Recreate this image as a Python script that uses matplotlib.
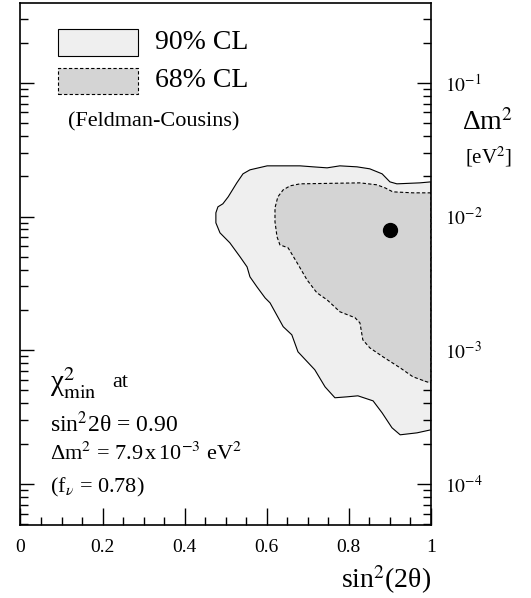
import numpy as np
import matplotlib
matplotlib.use("Agg")
from matplotlib import pyplot as plt
from matplotlib.patches import Rectangle
from matplotlib.ticker import LogLocator, MultipleLocator, FixedFormatter, FixedLocator

plt.rcParams['font.family'] = ['Liberation Serif', 'DejaVu Serif']
plt.rcParams['mathtext.fontset'] = 'stix'

# 90% CL contour (sin^2 2theta, dm^2 in eV^2)
cl90_x = [1.0, 0.973, 0.917, 0.900, 0.881, 0.851, 0.820, 0.778, 0.747, 0.713, 0.681, 0.601,
          0.559, 0.542, 0.527, 0.506, 0.493, 0.481, 0.476, 0.476, 0.486, 0.510, 0.535, 0.552,
          0.559, 0.576, 0.596, 0.608, 0.640, 0.661, 0.676, 0.717, 0.742, 0.766, 0.795, 0.822,
          0.859, 0.881, 0.905, 0.925, 0.966, 1.0]
cl90_y = [0.01817, 0.01786, 0.01756, 0.01817, 0.02086, 0.02274, 0.02353, 0.02394, 0.02313, 0.02353, 0.02394, 0.02394,
          0.02235, 0.02086, 0.01786, 0.01404, 0.01245, 0.01182, 0.01066, 0.00897, 0.00755, 0.00636, 0.00499, 0.00420,
          0.00354, 0.00298, 0.00246, 0.00226, 0.00150, 0.001304, 0.000973, 0.000714, 0.000532, 0.000441, 0.000448, 0.000456,
          0.000418, 0.000340, 0.000263, 0.000233, 0.000241, 0.000254]

# 68% CL contour
cl68_x = [1.0, 0.956, 0.907, 0.888, 0.868, 0.827, 0.681, 0.657, 0.640, 0.627, 0.620, 0.620,
          0.625, 0.632, 0.652, 0.674, 0.698, 0.722, 0.747, 0.778, 0.815, 0.827, 0.834, 0.851,
          0.883, 0.925, 0.956, 0.990, 1.0]
cl68_y = [0.01504, 0.01504, 0.01530, 0.01640, 0.01727, 0.01786, 0.01756, 0.01697, 0.01584, 0.01404, 0.01162, 0.00913,
          0.00705, 0.00614, 0.00583, 0.00450, 0.00336, 0.00269, 0.00238, 0.00194, 0.00175, 0.00160, 0.001196, 0.001042,
          0.000893, 0.000738, 0.000633, 0.000580, 0.000570]

best_x = 0.90
best_y = 7.9e-3

x_ticks = [0, 0.2, 0.4, 0.6, 0.8, 1.0]
x_ticklabels = ['0', '0.2', '0.4', '0.6', '0.8', '1']
y_ticks = [1e-4, 1e-3, 1e-2, 1e-1]
y_ticklabels = [r'$10^{-4}$', r'$10^{-3}$', r'$10^{-2}$', r'$10^{-1}$']

fig = plt.figure(figsize=(5.31, 5.98), dpi=100)
ax = fig.add_axes([0.0386, 0.1221, 0.773, 0.873])

ax.fill(cl90_x, cl90_y, facecolor='#efefef', edgecolor='black', lw=0.8, joinstyle='round', zorder=1)
ax.fill(cl68_x, cl68_y, facecolor='#d4d4d4', edgecolor='black', lw=0.8, ls=(0, (3, 2)), zorder=2)
ax.plot([best_x], [best_y], 'o', color='black', ms=10, zorder=3)

ax.set_yscale('log')
ax.set_xlim(0, 1)
ax.set_ylim(4.93e-5, 0.396)

ax.xaxis.set_major_locator(FixedLocator(x_ticks))
ax.xaxis.set_major_formatter(FixedFormatter(x_ticklabels))
ax.xaxis.set_minor_locator(MultipleLocator(0.05))
ax.yaxis.set_major_locator(FixedLocator(y_ticks))
ax.yaxis.set_major_formatter(FixedFormatter(y_ticklabels))
ax.yaxis.set_minor_locator(LogLocator(base=10, subs=np.arange(2, 10)))

ax.tick_params(which='both', direction='in', left=True, right=True, top=False, bottom=True,
               labelleft=False, labelright=True, width=1.0)
ax.tick_params(axis='y', which='major', length=10, pad=10, labelsize=14)
ax.tick_params(axis='y', which='minor', length=6, labelright=False)
ax.tick_params(axis='x', which='major', length=12, pad=10, labelsize=14)
ax.tick_params(axis='x', which='minor', length=6)
for s in ax.spines.values():
    s.set_linewidth(1.2)

# legend drawn by hand
ax.add_patch(Rectangle((0.0914, 0.898), 0.195, 0.052, transform=ax.transAxes,
                       facecolor='#efefef', edgecolor='black', lw=0.8))
ax.add_patch(Rectangle((0.0914, 0.826), 0.195, 0.050, transform=ax.transAxes,
                       facecolor='#d4d4d4', edgecolor='black', lw=0.8, ls=(0, (3, 2))))
ax.text(0.328, 0.925, '90% CL', transform=ax.transAxes, fontsize=20, va='center')
ax.text(0.328, 0.851, '68% CL', transform=ax.transAxes, fontsize=20, va='center')
ax.text(0.116, 0.772, '(Feldman-Cousins)', transform=ax.transAxes, fontsize=16, va='center')

# best fit info
ax.text(0.072, 0.272, r'χ$^{2}_{\mathrm{min}}$', transform=ax.transAxes, fontsize=21, va='center')
ax.text(0.223, 0.272, 'at', transform=ax.transAxes, fontsize=16, va='center')
ax.text(0.072, 0.192, r'sin$^2$2θ = 0.90', transform=ax.transAxes, fontsize=17, va='center')
ax.text(0.072, 0.136, r'Δm$^2$ = 7.9$\,$x$\,$10$^{-3}$ eV$^2$', transform=ax.transAxes, fontsize=16, va='center')
ax.text(0.072, 0.071, r'(f$_{\nu}$ = 0.78)', transform=ax.transAxes, fontsize=16, va='center')

# axis labels
ax.text(1.0, -0.105, r'sin$^2$(2θ)', transform=ax.transAxes, fontsize=20, ha='right', va='center')
ax.text(1.0755, 0.770, r'Δm$^2$', transform=ax.transAxes, fontsize=20, ha='left', va='center')
ax.text(1.083, 0.705, r'[eV$^2$]', transform=ax.transAxes, fontsize=15, ha='left', va='center')

fig.savefig('out.png', dpi=100)
